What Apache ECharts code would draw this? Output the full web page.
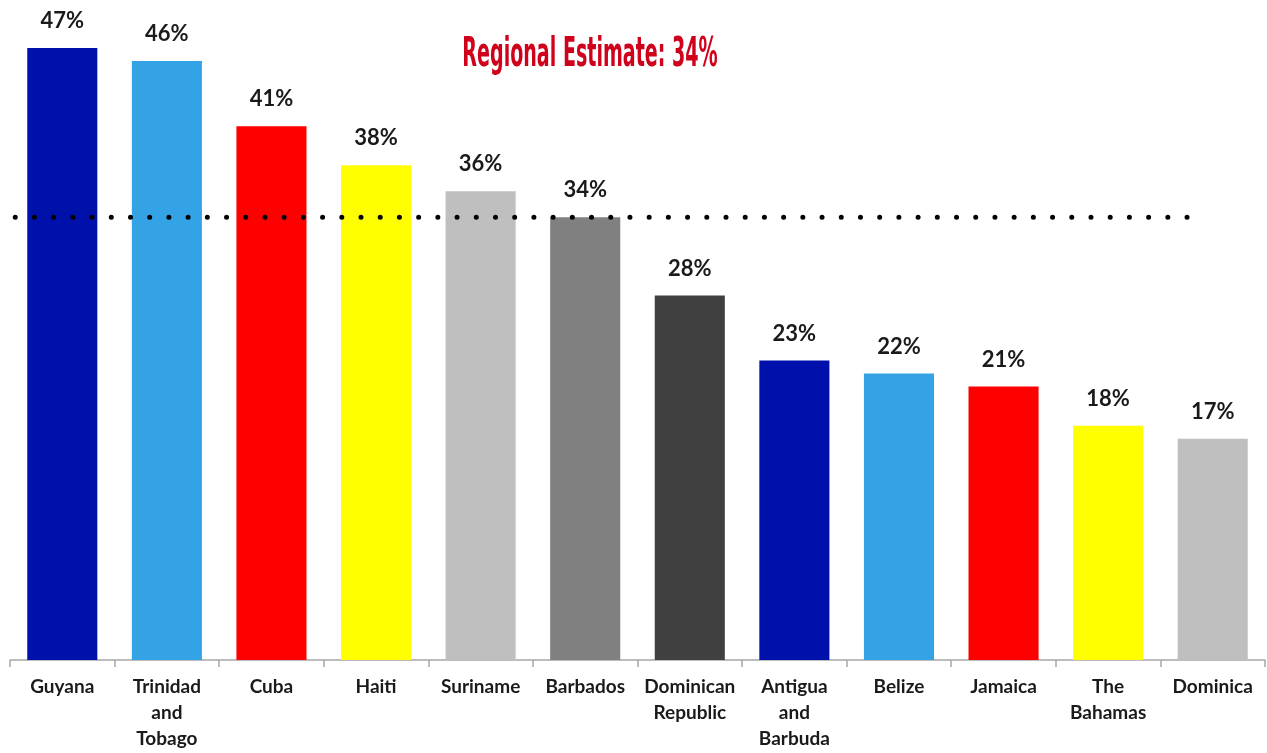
<!DOCTYPE html>
<html>
<head>
<meta charset="utf-8">
<script src="https://cdn.jsdelivr.net/npm/echarts@6/dist/echarts.min.js"></script>
<style>
html,body{margin:0;padding:0;background:#fff;}
#chart{width:1267px;height:753px;}
</style>
</head>
<body>
<div id="chart"></div>
<script>
const categories = ['Guyana','Trinidad and Tobago','Cuba','Haiti','Suriname','Barbados','Dominican Republic','Antigua and Barbuda','Belize','Jamaica','The Bahamas','Dominica'];
const values = [47,46,41,38,36,34,28,23,22,21,18,17];
const barColors = ['#0010AA','#33A3E6','#FF0000','#FFFF00','#BFBFBF','#808080','#404040','#0010AA','#33A3E6','#FF0000','#FFFF00','#BFBFBF'];
const regionalEstimate = 34;
const regionalLineX = [-0.45, 10.79];
const titleText = 'Regional Estimate: 34%';

const chart = echarts.init(document.getElementById('chart'));
const labelFont = 'Lato, "Open Sans", sans-serif';
chart.setOption({
  animation: false,
  backgroundColor: '#fff',
  graphic: [{
    type: 'text',
    x: 590, y: 56,
    scaleX: 0.53,
    style: {
      text: titleText,
      fontFamily: '"DejaVu Sans Condensed", "DejaVu Sans", sans-serif',
      fontWeight: 'bold', fontSize: 40, fill: '#D0021B',
      align: 'center', verticalAlign: 'middle'
    }
  }],
  grid: { left: 10, right: 2, top: 9, bottom: 93, containLabel: false },
  xAxis: [{
    type: 'category',
    data: categories,
    axisLine: { lineStyle: { color: '#A6A6A6', width: 1.5 } },
    axisTick: { show: true, length: 7, lineStyle: { color: '#A6A6A6', width: 1.5 } },
    axisLabel: {
      interval: 0, margin: 14,
      fontFamily: labelFont, fontWeight: 'bold', fontSize: 19, color: '#1a1a1a', lineHeight: 26,
      formatter: v => v.replace(/ /g, '\n')
    }
  }, {
    type: 'value', min: -0.5, max: 11.5, show: false
  }],
  yAxis: { type: 'value', min: 0, max: 50, show: false, splitLine: { show: false } },
  series: [{
    type: 'bar',
    xAxisIndex: 0,
    data: values.map((v, i) => ({ value: v, itemStyle: { color: barColors[i] } })),
    barWidth: '67%',
    label: {
      show: true, position: 'top', distance: 16,
      formatter: p => p.value + '%',
      fontFamily: labelFont, fontWeight: 'bold', fontSize: 22, color: '#1a1a1a'
    }
  }, {
    type: 'line',
    xAxisIndex: 1,
    data: regionalLineX.map(x => [x, regionalEstimate]),
    symbol: 'none',
    lineStyle: { color: '#000', width: 5, type: [0.01, 19.2], cap: 'round' },
    z: 5
  }]
});
</script>
</body>
</html>
